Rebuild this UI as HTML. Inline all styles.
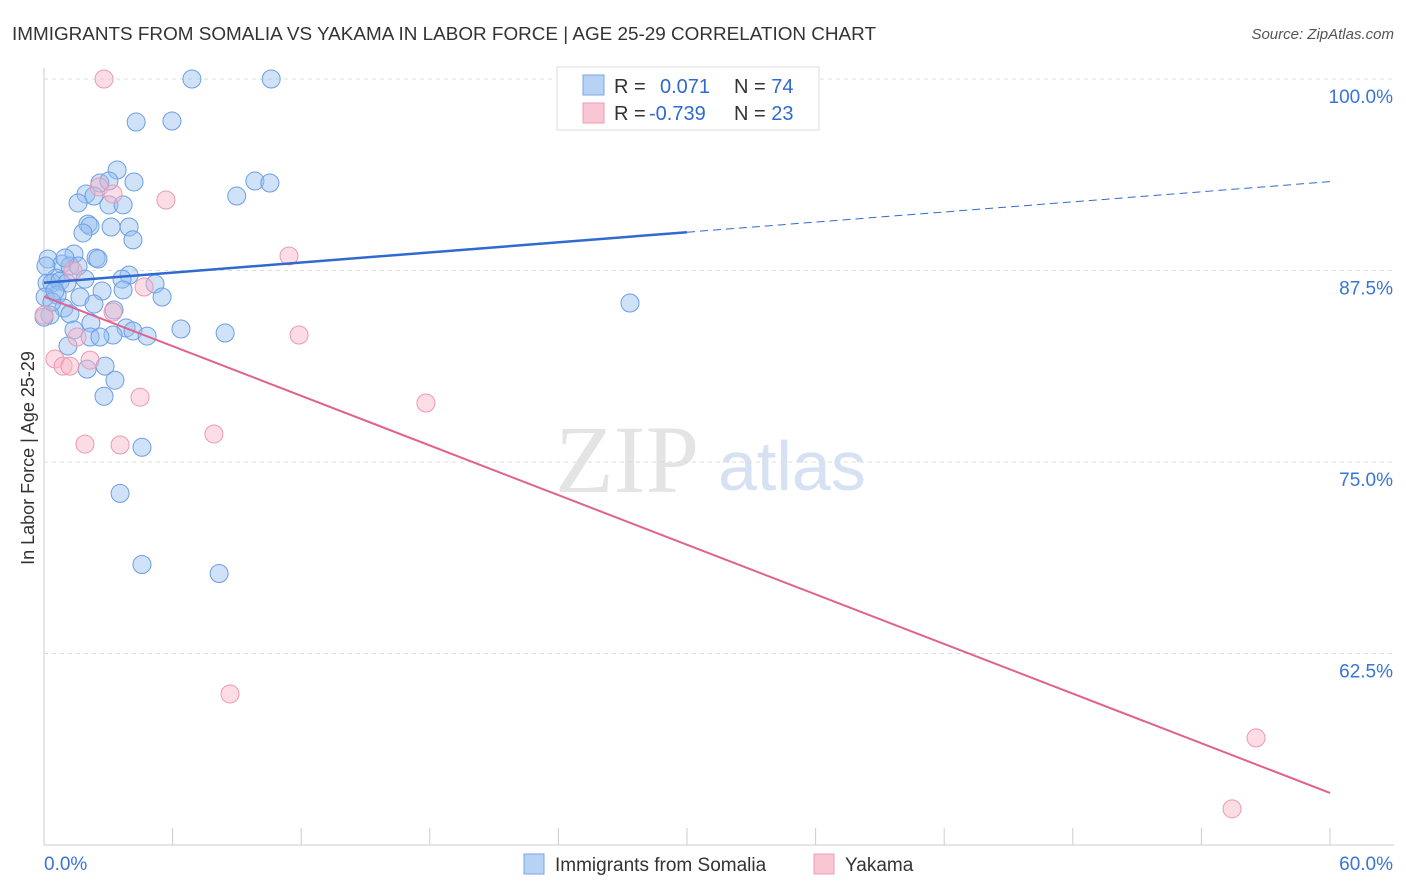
<!DOCTYPE html>
<html><head><meta charset="utf-8"><style>
body{margin:0;background:#fff;font-family:"Liberation Sans",sans-serif;}
#wrap{position:relative;width:1406px;height:892px;overflow:hidden;}
</style></head><body>
<div id="wrap">
<svg id="svg" width="1406" height="892" xmlns="http://www.w3.org/2000/svg">
<text x="12" y="40" font-size="18" fill="#333" textLength="864" lengthAdjust="spacingAndGlyphs">IMMIGRANTS FROM SOMALIA VS YAKAMA IN LABOR FORCE | AGE 25-29 CORRELATION CHART</text>
<text x="1394" y="39" font-size="15" fill="#555" text-anchor="end" font-style="italic">Source: ZipAtlas.com</text>
<text x="34" y="458" font-size="18" fill="#333" text-anchor="middle" transform="rotate(-90 34 458)">In Labor Force | Age 25-29</text>
<text x="555" y="492" font-size="96" fill="#e4e4e4" font-family="Liberation Serif,serif">ZIP</text>
<text x="718" y="490" font-size="70" fill="#d6e2f3">atlas</text>
<g id="grid"></g><g id="pts"></g><g id="lines"></g>
<g>
<rect x="557" y="67" width="262" height="63" fill="#fff" stroke="#ddd"/>
<rect x="583" y="75" width="21" height="20" fill="#b8d2f5" stroke="#7aa5e4"/>
<rect x="583" y="103" width="21" height="20" fill="#f9c6d4" stroke="#ea9db4"/>
<text x="614" y="93" font-size="20" fill="#333">R = <tspan x="660" fill="#2f6ad0">0.071</tspan><tspan x="734" fill="#333">N = </tspan><tspan fill="#2f6ad0">74</tspan></text>
<text x="614" y="120" font-size="20" fill="#333">R = <tspan x="649" fill="#2f6ad0">-0.739</tspan><tspan x="734" fill="#333">N = </tspan><tspan fill="#2f6ad0">23</tspan></text>
</g>
<g>
<rect x="524" y="854" width="20" height="20" fill="#b8d2f5" stroke="#7aa5e4"/>
<text x="555" y="871" font-size="19" fill="#333">Immigrants from Somalia</text>
<rect x="814" y="854" width="20" height="20" fill="#f9c6d4" stroke="#ea9db4"/>
<text x="845" y="871" font-size="19" fill="#333">Yakama</text>
</g>
</svg>
</div>
<script>
const xTicks=[0,60];
const yTicks=[100,87.5,75,62.5];
const blueX=[6.9,10.6,4.3,5.97,3.41,2.61,3.03,4.2,9.84,10.54,8.99,1.96,2.33,1.59,3.03,3.69,2.05,2.15,3.13,3.97,1.82,4.15,0.19,1.4,2.43,2.52,0.84,1.21,1.59,3.97,3.64,0.56,1.91,0.14,0.37,0.75,1.07,5.18,3.69,2.71,0.61,0.05,1.68,5.51,2.33,0.93,0.28,1.21,2.19,3.27,3.83,4.15,6.39,4.81,8.45,3.22,1.4,1.12,27.34,2.85,2.01,3.31,2.8,4.57,3.55,4.57,8.17,0,0.37,0.98,0.09,0.51,2.15,2.61];
const blueY=[100,100,97.19,97.26,94.06,93.21,93.34,93.28,93.34,93.21,92.36,92.49,92.36,91.91,91.78,91.78,90.53,90.4,90.34,90.34,89.95,89.5,88.25,88.58,88.32,88.25,87.92,87.79,87.79,87.2,86.94,87.01,86.94,86.68,86.68,86.81,86.68,86.62,86.23,86.16,85.9,85.77,85.77,85.77,85.31,85.05,84.59,84.66,84.07,84.92,83.75,83.55,83.68,83.22,83.42,83.29,83.62,82.57,85.38,81.26,81.06,80.34,79.29,75.96,72.95,68.31,67.72,84.46,85.44,88.32,87.79,86.16,83.16,83.16];
const pinkX=[2.8,2.57,3.22,5.69,11.43,4.67,1.35,3.22,11.9,1.54,0.51,0.89,1.21,2.15,4.48,17.82,1.91,3.55,7.93,8.68,56.55,55.43,0];
const pinkY=[100,92.95,92.49,92.1,88.45,86.42,87.5,84.79,83.29,83.16,81.72,81.26,81.26,81.65,79.23,78.85,76.17,76.11,76.83,59.86,56.99,52.36,84.59];
const blueFit=[[0,86.7],[30,90],[60,93.3]];
const pinkFit=[[0,85.8],[60,53.4]];
const NS="http://www.w3.org/2000/svg";
const X=v=>44+v/60*1286, Y=v=>79+(100-v)/12.5*191.5;
function mk(t,a,p){const e=document.createElementNS(NS,t);for(const k in a)e.setAttribute(k,a[k]);p.appendChild(e);return e;}
const grid=document.getElementById('grid');
mk('line',{x1:44,y1:68,x2:44,y2:845,stroke:'#ccc'},grid);
mk('line',{x1:44,y1:845,x2:1394,y2:845,stroke:'#ccc'},grid);
yTicks.forEach(v=>{
 const l=mk('line',{x1:44,y1:Y(v),x2:1394,y2:Y(v),stroke:'#ddd','stroke-dasharray':'4,4'},grid);
 
 
 const t=mk('text',{x:1393,y:Y(v)+24,'font-size':19,fill:'#3a74d6','text-anchor':'end'},grid);
 t.textContent=v.toFixed(1)+'%';
 
 
});
for(let i=1;i<=10;i++){const x=44+i*128.6;const l=mk('line',{x1:x,y1:828,x2:x,y2:845,stroke:'#ccc'},grid);
 
 }
xTicks.forEach((v,i)=>{const t=mk('text',{x:i?1393:44,y:870,'font-size':19,fill:'#3a74d6','text-anchor':i?'end':'start'},grid);
 t.textContent=v.toFixed(1)+'%';
 
 });
const pts=document.getElementById('pts');
blueX.forEach((v,i)=>{const c=mk('circle',{cx:X(v),cy:Y(blueY[i]),r:9,fill:'rgba(150,190,240,0.45)',stroke:'#6b9ee6','stroke-width':1},pts);
 
 });
pinkX.forEach((v,i)=>{const c=mk('circle',{cx:X(v),cy:Y(pinkY[i]),r:9,fill:'rgba(248,180,200,0.45)',stroke:'#ec98b2','stroke-width':1},pts);
 
 });
const lines=document.getElementById('lines');
let l=mk('line',{x1:X(blueFit[0][0]),y1:Y(blueFit[0][1]),x2:X(blueFit[1][0]),y2:Y(blueFit[1][1]),stroke:'#2f6ad0','stroke-width':2.5},lines);


l=mk('line',{x1:X(blueFit[1][0]),y1:Y(blueFit[1][1]),x2:X(blueFit[2][0]),y2:Y(blueFit[2][1]),stroke:'#2f6ad0','stroke-width':1,'stroke-dasharray':'8,5'},lines);


l=mk('line',{x1:X(pinkFit[0][0]),y1:Y(pinkFit[0][1]),x2:X(pinkFit[1][0]),y2:Y(pinkFit[1][1]),stroke:'#e0628f','stroke-width':2},lines);


</script>
</body></html>
